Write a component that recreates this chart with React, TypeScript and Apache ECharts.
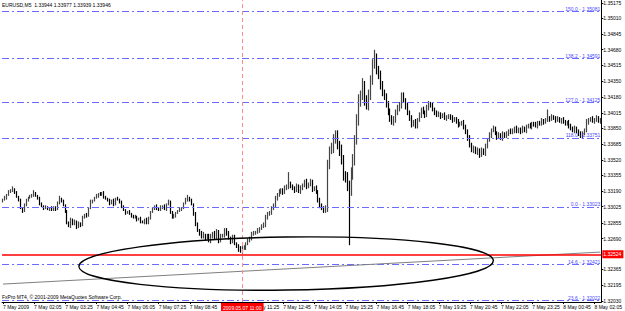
import React, { useEffect, useRef } from "react";
import * as echarts from "echarts";

const headerSymbol = "EURUSD,M5";
const headerOHLC = ["1.33944", "1.33977", "1.33939", "1.33946"];
const copyrightText = "FxPro MT4, © 2001-2009 MetaQuotes Software Corp.";

const xTickLabels = [
  "7 May 2009", "7 May 02:05", "7 May 03:25", "7 May 04:45", "7 May 06:05",
  "7 May 07:25", "7 May 08:45", "", "7 May 11:25", "7 May 12:45",
  "7 May 14:05", "7 May 15:25", "7 May 16:45", "7 May 18:05", "7 May 19:25",
  "7 May 20:45", "7 May 22:05", "7 May 23:25", "8 May 00:45", "8 May 02:05",
];
const barsPerTick = 16;

const firstOpen = 1.3308;
const closes = [
  1.3310, 1.3312, 1.3315, 1.3318, 1.3320, 1.3321, 1.3317, 1.3313, 1.3310, 1.3301,
  1.3298, 1.3304, 1.3310, 1.3312, 1.3313, 1.3315, 1.3317, 1.3314, 1.3311, 1.3306,
  1.3303, 1.3301, 1.3302, 1.3300, 1.3301, 1.3299, 1.3302, 1.3300, 1.3306, 1.3311,
  1.3309, 1.3304, 1.3297, 1.3286, 1.3282, 1.3289, 1.3284, 1.3287, 1.3281, 1.3285,
  1.3283, 1.3291, 1.3294, 1.3293, 1.3301, 1.3308, 1.3309, 1.3312, 1.3314, 1.3316,
  1.3315, 1.3317, 1.3313, 1.3311, 1.3309, 1.3306, 1.3309, 1.3305, 1.3311, 1.3310,
  1.3308, 1.3302, 1.3299, 1.3296, 1.3297, 1.3295, 1.3293, 1.3291, 1.3292, 1.3289,
  1.3290, 1.3287, 1.3286, 1.3289, 1.3285, 1.3291, 1.3297, 1.3300, 1.3303, 1.3301,
  1.3299, 1.3302, 1.3303, 1.3300, 1.3305, 1.3308, 1.3297, 1.3291, 1.3293, 1.3296,
  1.3298, 1.3300, 1.3301, 1.3306, 1.3310, 1.3312, 1.3309, 1.3305, 1.3295, 1.3284,
  1.3278, 1.3275, 1.3271, 1.3273, 1.3270, 1.3272, 1.3267, 1.3271, 1.3275, 1.3270,
  1.3276, 1.3267, 1.3272, 1.3273, 1.3278, 1.3274, 1.3270, 1.3266, 1.3271, 1.3264,
  1.3261, 1.3258, 1.3255, 1.3259, 1.3260, 1.3264, 1.3267, 1.3270, 1.3274, 1.3275,
  1.3276, 1.3278, 1.3280, 1.3282, 1.3284, 1.3291, 1.3295, 1.3297, 1.3301, 1.3304,
  1.3312, 1.3315, 1.3318, 1.3320, 1.3318, 1.3322, 1.3324, 1.3326, 1.3324, 1.3322,
  1.3320, 1.3324, 1.3319, 1.3322, 1.3325, 1.3329, 1.3324, 1.3326, 1.3329, 1.3321,
  1.3322, 1.3318, 1.3310, 1.3303, 1.3301, 1.3299, 1.3301, 1.3347, 1.3362, 1.3364,
  1.3373, 1.3378, 1.3368, 1.3362, 1.3352, 1.3336, 1.3333, 1.3325, 1.3320, 1.3336,
  1.3352, 1.3373, 1.3394, 1.3415, 1.3420, 1.3431, 1.3415, 1.3410, 1.3420, 1.3436,
  1.3452, 1.3459, 1.3447, 1.3441, 1.3431, 1.3423, 1.3418, 1.3411, 1.3402, 1.3396,
  1.3392, 1.3394, 1.3402, 1.3407, 1.3409, 1.3420, 1.3415, 1.3409, 1.3402, 1.3396,
  1.3389, 1.3392, 1.3388, 1.3394, 1.3399, 1.3405, 1.3402, 1.3399, 1.3407, 1.3411,
  1.3409, 1.3405, 1.3402, 1.3399, 1.3400, 1.3398, 1.3399, 1.3396, 1.3397, 1.3398,
  1.3396, 1.3394, 1.3395, 1.3392, 1.3389, 1.3390, 1.3391, 1.3387, 1.3381, 1.3375,
  1.3368, 1.3362, 1.3364, 1.3360, 1.3362, 1.3358, 1.3362, 1.3359, 1.3366, 1.3373,
  1.3378, 1.3383, 1.3385, 1.3380, 1.3376, 1.3378, 1.3375, 1.3379, 1.3377, 1.3380,
  1.3382, 1.3381, 1.3383, 1.3385, 1.3382, 1.3384, 1.3382, 1.3385, 1.3383, 1.3387,
  1.3388, 1.3387, 1.3390, 1.3389, 1.3388, 1.3391, 1.3390, 1.3393, 1.3392, 1.3394,
  1.3396, 1.3395, 1.3397, 1.3396, 1.3394, 1.3395, 1.3393, 1.3394, 1.3392, 1.3390,
  1.3391, 1.3388, 1.3385, 1.3383, 1.3385, 1.3382, 1.3379, 1.3377, 1.3380, 1.3383,
  1.3392, 1.3394, 1.3395, 1.3393, 1.3394, 1.3396, 1.3393, 1.3394,
];

// upper and lower wick length of each bar, in pips beyond its body
const upperWickPips = [
  1, 2, 1, 2, 1, 3, 1, 2, 1, 1, 1, 2, 1, 1, 2, 1, 3, 1, 1, 2,
  1, 1, 2, 1, 1, 2, 1, 1, 2, 3, 1, 1, 1, 2, 1, 2, 1, 2, 1, 2,
  1, 2, 1, 2, 1, 2, 1, 1, 2, 1, 2, 1, 2, 1, 1, 2, 1, 2, 1, 2,
  1, 1, 2, 1, 1, 2, 1, 1, 2, 1, 1, 2, 1, 1, 2, 1, 1, 2, 1, 2,
  1, 2, 1, 2, 1, 2, 1, 1, 2, 1, 1, 2, 1, 1, 2, 3, 1, 2, 1, 2,
  2, 1, 2, 3, 1, 2, 2, 3, 1, 2, 3, 2, 2, 1, 2, 2, 3, 1, 2, 2,
  1, 2, 3, 2, 2, 1, 2, 1, 2, 2, 1, 2, 1, 2, 2, 3, 2, 1, 2, 2,
  2, 2, 3, 2, 2, 3, 2, 13, 3, 2, 2, 3, 2, 3, 2, 2, 3, 2, 3, 2,
  2, 3, 2, 2, 3, 2, 3, 5, 4, 6, 6, 5, 5, 4, 6, 5, 4, 6, 5, 8,
  6, 5, 6, 6, 5, 7, 4, 5, 6, 5, 6, 9, 5, 4, 5, 4, 3, 4, 3, 4,
  3, 4, 3, 3, 4, 3, 3, 2, 3, 2, 3, 2, 3, 2, 3, 2, 3, 2, 3, 3,
  2, 3, 2, 2, 3, 2, 2, 3, 2, 2, 2, 3, 2, 2, 3, 2, 2, 3, 2, 3,
  3, 2, 3, 2, 3, 2, 3, 2, 3, 2, 3, 2, 3, 2, 2, 3, 2, 3, 2, 2,
  2, 3, 2, 2, 3, 2, 2, 3, 2, 2, 2, 3, 2, 2, 3, 2, 2, 3, 2, 2,
  9, 2, 3, 2, 2, 3, 2, 2, 3, 2, 2, 3, 2, 2, 3, 2, 2, 3, 2, 2,
  3, 2, 2, 3, 2, 3, 2, 2,
];
const lowerWickPips = [
  1, 1, 2, 1, 1, 2, 1, 1, 2, 1, 2, 1, 1, 2, 1, 1, 2, 1, 1, 2,
  1, 2, 1, 1, 2, 1, 1, 2, 1, 1, 2, 1, 1, 2, 1, 2, 1, 1, 2, 1,
  2, 1, 1, 2, 1, 1, 2, 1, 1, 2, 1, 1, 2, 1, 1, 2, 1, 2, 1, 1,
  2, 1, 1, 2, 1, 1, 2, 1, 1, 2, 1, 2, 1, 2, 1, 1, 2, 1, 1, 2,
  1, 1, 2, 1, 2, 1, 2, 1, 1, 2, 1, 1, 2, 1, 1, 2, 1, 1, 2, 2,
  2, 3, 2, 2, 3, 2, 2, 3, 2, 2, 2, 3, 2, 2, 3, 2, 2, 3, 2, 2,
  2, 3, 1, 2, 2, 3, 2, 2, 3, 2, 2, 2, 3, 2, 2, 3, 2, 2, 3, 2,
  2, 3, 2, 2, 3, 2, 2, 3, 2, 2, 3, 2, 2, 3, 2, 2, 3, 2, 2, 3,
  2, 2, 3, 2, 2, 3, 3, 4, 5, 4, 5, 4, 5, 6, 5, 6, 5, 6, 58, 6,
  5, 6, 5, 6, 7, 5, 6, 5, 6, 5, 5, 4, 5, 4, 5, 4, 3, 4, 3, 4,
  3, 4, 3, 3, 4, 3, 3, 4, 3, 3, 3, 2, 3, 3, 2, 3, 2, 3, 2, 3,
  2, 2, 3, 2, 2, 3, 2, 2, 3, 2, 2, 3, 2, 2, 3, 2, 2, 3, 2, 3,
  3, 2, 3, 2, 3, 4, 3, 2, 3, 2, 2, 3, 2, 2, 3, 2, 2, 3, 2, 2,
  3, 2, 2, 3, 2, 2, 3, 2, 2, 3, 2, 2, 3, 2, 2, 3, 2, 2, 3, 2,
  2, 3, 2, 2, 3, 2, 2, 3, 2, 2, 2, 3, 2, 2, 3, 2, 2, 2, 3, 2,
  2, 3, 2, 2, 3, 2, 2, 3,
];
const PIP = 0.0001;

const yMin = 1.32021;
const yMax = 1.35204;
const yTickValues = [
  1.35175, 1.35010, 1.34845, 1.34680, 1.34515, 1.34350, 1.34180, 1.34015, 1.33850, 1.33685,
  1.33520, 1.33355, 1.33190, 1.33025, 1.32855, 1.32690, 1.32365, 1.32195, 1.32030,
];

const fibLabels = ["150.0", "138.2", "127.0", "118.0", "0.0", "14.6", "23.6"];
const fibPrices = [1.35081, 1.34591, 1.34125, 1.33751, 1.33023, 1.32421, 1.32040];
const fibPriceTexts = ["1.35081", "1.34591", "1.34125", "1.33751", "1.33023", "1.32421", "1.32022"];

const redLevelPrice = 1.32524;
const markedBar = 123;
const markedBarLabel = "2009.05.07 11:00";

const trendStart: [number, number] = [0, 1.3221];
const trendEnd: [number, number] = [307, 1.32547];

const ellipseBars = [39, 252];
const ellipsePrices = [1.32147, 1.32706];

const FONT = "Liberation Sans";

export default function App() {
  const ref = useRef<HTMLDivElement>(null);

  useEffect(() => {
    document.body.style.margin = "0";
    const el = ref.current;
    if (!el) return;
    const chart = echarts.init(el, null, { renderer: "svg" });

    const categories = closes.map((_, i) => String(i));
    const candleData = closes.map((c, i) => {
      const o = i === 0 ? firstOpen : closes[i - 1];
      const hi = Math.max(o, c) + upperWickPips[i] * PIP;
      const lo = Math.min(o, c) - lowerWickPips[i] * PIP;
      return [o, c, lo, hi];
    });

    const fibLines = fibPrices.map((p, k) => ({
      yAxis: p,
      lineStyle: { color: "#6a6aff", width: 1, type: [7, 3, 2, 3] as any },
      label: {
        show: true,
        position: "insideEndTop",
        distance: 0,
        formatter: `${fibLabels[k]} - ${fibPriceTexts[k]}`,
        color: "#4a4aff",
        fontSize: 5,
        fontFamily: FONT,
        padding: [0, 1, 0, 0],
      },
    }));

    const option: any = {
      animation: false,
      backgroundColor: "#ffffff",
      grid: { left: 1, right: 19, top: 0, bottom: 9, containLabel: false },
      xAxis: {
        type: "category",
        data: categories,
        boundaryGap: true,
        axisLine: { show: true, lineStyle: { color: "#000", width: 1 } },
        axisTick: {
          show: true,
          interval: barsPerTick - 1,
          alignWithLabel: true,
          length: 2,
          lineStyle: { color: "#000" },
        },
        axisLabel: {
          interval: barsPerTick - 1,
          align: "left",
          margin: 2,
          fontSize: 5,
          fontFamily: FONT,
          color: "#000",
          formatter: (_v: string, idx: number) => xTickLabels[Math.round(idx / barsPerTick)] ?? "",
        },
        splitLine: { show: false },
      },
      yAxis: {
        type: "value",
        position: "right",
        min: yMin,
        max: yMax,
        axisLine: { show: true, lineStyle: { color: "#000", width: 1 } },
        axisTick: { show: true, length: 2, customValues: yTickValues, lineStyle: { color: "#000" } },
        axisLabel: {
          customValues: yTickValues,
          margin: 2,
          fontSize: 5,
          fontFamily: FONT,
          color: "#000",
          formatter: (v: number) => v.toFixed(5),
        },
        splitLine: { show: false },
      },
      series: [
        {
          type: "candlestick",
          data: candleData,
          barWidth: 1,
          itemStyle: {
            color: "#454545",
            color0: "#000000",
            borderColor: "#454545",
            borderColor0: "#000000",
            borderWidth: 1.2,
          },
          markLine: {
            silent: true,
            symbol: ["none", "none"],
            precision: 5,
            animation: false,
            z: 10,
            data: [
              ...fibLines,
              [
                { coord: trendStart, lineStyle: { color: "#7f7f7f", width: 1, type: "solid" }, label: { show: false } },
                { coord: trendEnd },
              ],
              {
                yAxis: redLevelPrice,
                lineStyle: { color: "#ff0000", width: 1.6, type: "solid" },
                label: {
                  show: true,
                  position: "end",
                  distance: 1,
                  formatter: redLevelPrice.toFixed(5),
                  color: "#ffffff",
                  backgroundColor: "#ff0000",
                  fontSize: 5,
                  fontFamily: FONT,
                  padding: [2, 2, 1, 1],
                },
              },
              {
                xAxis: markedBar,
                lineStyle: { color: "#ff8a8a", width: 1, type: [4, 3] },
                label: {
                  show: true,
                  position: "start",
                  distance: 1,
                  formatter: markedBarLabel,
                  color: "#ffffff",
                  backgroundColor: "#ff0000",
                  fontSize: 5,
                  fontFamily: FONT,
                  padding: [2, 2, 1, 2],
                },
              },
            ],
          },
        },
      ],
    };

    chart.setOption(option);

    const pl = chart.convertToPixel({ gridIndex: 0 }, [ellipseBars[0], ellipsePrices[0]]) as number[];
    const pr = chart.convertToPixel({ gridIndex: 0 }, [ellipseBars[1], ellipsePrices[1]]) as number[];
    const cx = (pl[0] + pr[0]) / 2;
    const cy = (pl[1] + pr[1]) / 2;
    const rx = Math.abs(pr[0] - pl[0]) / 2;
    const ry = Math.abs(pr[1] - pl[1]) / 2;

    chart.setOption({
      graphic: [
        {
          type: "ellipse",
          z: 100,
          shape: { cx, cy, rx, ry },
          rotation: 0.014,
          originX: cx,
          originY: cy,
          style: { fill: "none", stroke: "#000", lineWidth: 1.4 },
          silent: true,
        },
        {
          type: "text",
          left: 2,
          top: 2,
          z: 100,
          style: {
            text: `${headerSymbol}  ${headerOHLC.join(" ")}`,
            fill: "#000",
            fontSize: 5,
            fontFamily: FONT,
          },
        },
        {
          type: "text",
          left: 2,
          top: 294,
          z: 100,
          style: {
            text: copyrightText,
            fill: "#000",
            fontSize: 5,
            fontFamily: FONT,
          },
        },
      ],
    });

    return () => chart.dispose();
  }, []);

  return <div ref={ref} style={{ position: "fixed", left: 0, top: 0, width: 625, height: 311 }} />;
}
